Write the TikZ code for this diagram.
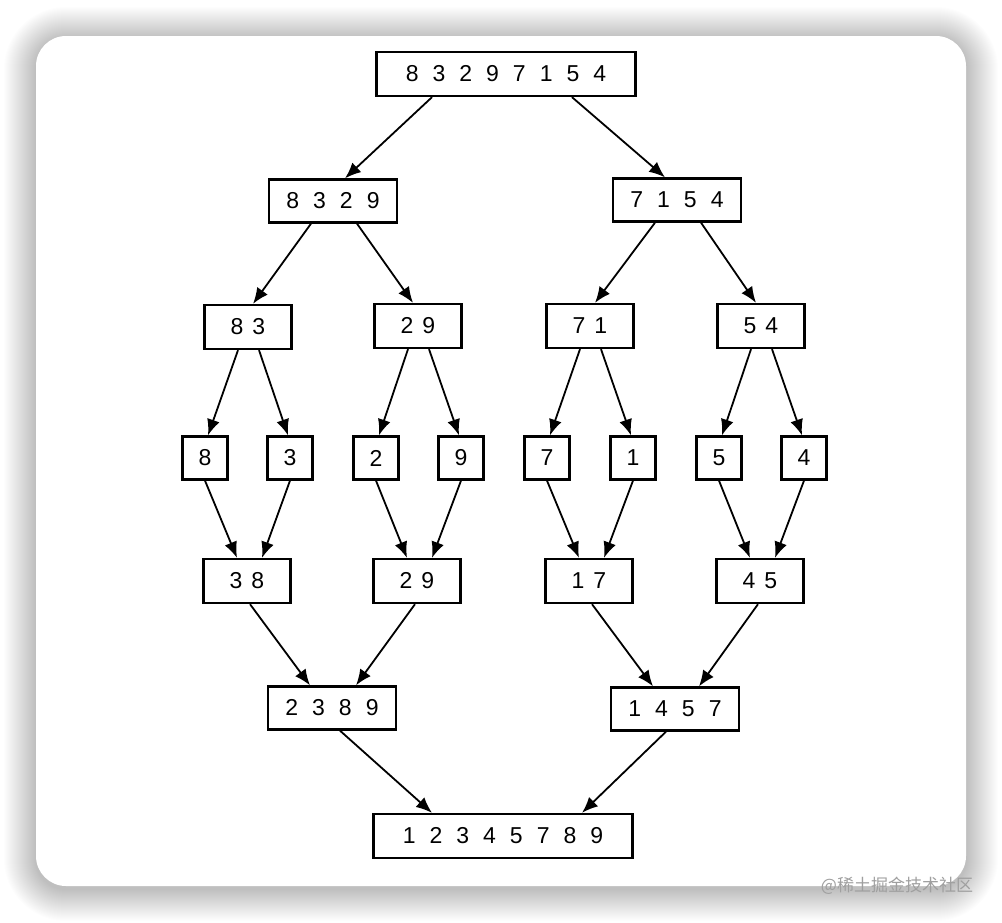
\documentclass[tikz,border=0pt]{standalone}
\usepackage{fontspec}
\setmainfont{Liberation Sans}
\newfontfamily\cjk{Noto Sans CJK SC}
\usetikzlibrary{arrows.meta,calc}
\newcommand{\gp}{\hspace{14pt}}
\newcommand{\gq}{\hspace{9pt}}
\begin{document}
\begin{tikzpicture}[x=1pt,y=-1pt,
  box/.style={draw=black,line width=2.3pt,fill=white,inner sep=0pt,font=\fontsize{23}{23}\selectfont},
  b8/.style={box,minimum width=259pt,minimum height=44pt},
  b4/.style={box,minimum width=128pt,minimum height=43pt},
  b2/.style={box,minimum width=87pt,minimum height=44pt},
  b1/.style={box,minimum width=45pt,minimum height=43pt},
  arr/.style={line width=1.8pt,-{Latex[length=16pt,width=13pt]}}]
\useasboundingbox (0,0) rectangle (1002,922);
\fill[white] (0,0) rectangle (1002,922);
\foreach \i in {1,...,32}{
  \fill[black,opacity=0.009,rounded corners=30pt+\i pt] (36-\i,36-\i+3) rectangle (966+\i,886+\i+3);
}
\fill[white,rounded corners=30pt] (36,36) rectangle (966,886);
% nodes
\node[b8] (t) at (506,74) {8\gp3\gp2\gp9\gp7\gp1\gp5\gp4};
\node[b4] (l) at (333,201) {8\gp3\gp2\gp9};
\node[b4] (r) at (677,200) {7\gp1\gp5\gp4};
\node[b2] (ll) at (248,327) {8\gq3};
\node[b2] (lr) at (418,326) {2\gq9};
\node[b2] (rl) at (590,326) {7\gq1};
\node[b2] (rr) at (761,326) {5\gq4};
\node[b1] (s1) at (205,458) {8};
\node[b1] (s2) at (290,458) {3};
\node[b1] (s3) at (376,458) {2};
\node[b1] (s4) at (461,458) {9};
\node[b1] (s5) at (547,458) {7};
\node[b1] (s6) at (633,458) {1};
\node[b1] (s7) at (719,458) {5};
\node[b1] (s8) at (804,458) {4};
\node[b2] (m1) at (247,581) {3\gq8};
\node[b2] (m2) at (417,581) {2\gq9};
\node[b2] (m3) at (589,581) {1\gq7};
\node[b2] (m4) at (760,581) {4\gq5};
\node[b4] (n1) at (332,708) {2\gp3\gp8\gp9};
\node[b4] (n2) at (675,709) {1\gp4\gp5\gp7};
\node[b8] (f) at (503,836) {1\gp2\gp3\gp4\gp5\gp7\gp8\gp9};
% arrows
\draw[arr] ($(t.south)+(-74,0)$) -- ($(l.north)+(12,0)$);
\draw[arr] ($(t.south)+(66,0)$) -- ($(r.north)+(-12,0)$);
\foreach \a/\b/\c in {l/ll/lr, r/rl/rr}{
  \draw[arr] ($(\a.south)+(-22,0)$) -- ($(\b.north)+(5,0)$);
  \draw[arr] ($(\a.south)+(24,0)$) -- ($(\c.north)+(-5,0)$);
}
\foreach \a/\b/\c in {ll/s1/s2, lr/s3/s4, rl/s5/s6, rr/s7/s8}{
  \draw[arr] ($(\a.south)+(-10,0)$) -- ($(\b.north)+(3,0)$);
  \draw[arr] ($(\a.south)+(11,0)$) -- ($(\c.north)+(-2,0)$);
}
\foreach \a/\b/\c in {s1/s2/m1, s3/s4/m2, s5/s6/m3, s7/s8/m4}{
  \draw[arr] (\a.south) -- ($(\c.north)+(-10,0)$);
  \draw[arr] (\b.south) -- ($(\c.north)+(15,0)$);
}
\foreach \a/\b/\c in {m1/m2/n1, m3/m4/n2}{
  \draw[arr] ($(\a.south)+(3,0)$) -- ($(\c.north)+(-22,0)$);
  \draw[arr] ($(\b.south)+(-2,0)$) -- ($(\c.north)+(24,0)$);
}
\draw[arr] ($(n1.south)+(8,0)$) -- ($(f.north)+(-71,0)$);
\draw[arr] ($(n2.south)+(-9,0)$) -- ($(f.north)+(79,0)$);
\node[font=\cjk\fontsize{17}{17}\selectfont,text=gray!75,inner sep=0pt] (wm) at (897,886) {@稀土掘金技术社区};
\end{tikzpicture}
\end{document}
